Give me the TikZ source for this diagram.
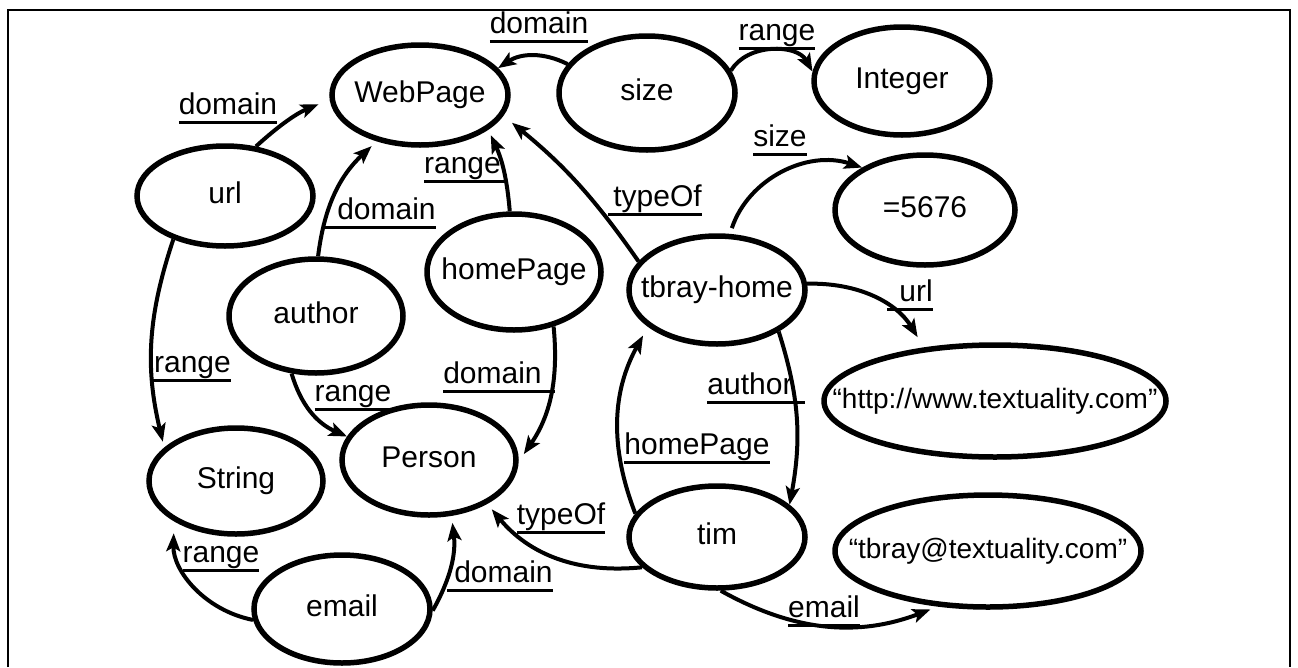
\documentclass[tikz,border=0pt]{standalone}
\usepackage{fontspec}
\setmainfont{Liberation Sans}
\usetikzlibrary{shapes.geometric,arrows.meta}
\newcommand\nt[1]{\makebox[0pt]{#1\vphantom{Hg}}}
\newcommand\ulab[3]{\vtop{\hbox{\hspace{#1}#2\vphantom{gy}\hspace{#3}}\kern0.6pt\hrule height 2.4pt}}
\begin{document}
\begin{tikzpicture}[x=1pt,y=-1pt,font=\fontsize{30}{36}\selectfont,
  ell/.style n args={2}{draw, ellipse, line width=5.5pt, inner sep=0pt, minimum width=#1, minimum height=#2},
  conn/.style={line width=4pt, -{Stealth[length=18pt,width=14pt,inset=4pt]}},
  lab/.style={inner sep=0pt, anchor=south},
  frameline/.style={line width=2pt}]
\useasboundingbox (0,0) rectangle (1298,667);
\draw[frameline] (8,667) -- (8,10) -- (1290,10) -- (1290,667);

% nodes
\node[ell={176}{100}] (WebPage)  at (420,95)  {\nt{WebPage}};
\node[ell={176}{114}] (size)     at (647,93)  {\nt{size}};
\node[ell={176}{108}] (Integer)  at (902,81)  {\nt{Integer}};
\node[ell={176}{100}] (url)      at (225,196) {\nt{url}};
\node[ell={174}{116}] (homePage) at (514,272) {\nt{homePage}};
\node[ell={180}{110}] (n5676)    at (925,210) {\nt{=5676}};
\node[ell={174}{114}] (author)   at (316,316) {\nt{author}};
\node[ell={176}{108}] (tbray)    at (717,290) {\nt{tbray-home}};
\node[ell={342}{112}] (http)     at (995,401) {\fontsize{28}{34}\selectfont\nt{“http://www.textuality.com”}};
\node[ell={174}{106}] (String)   at (236,481) {\nt{String}};
\node[ell={174}{110}] (Person)   at (429,460) {\nt{Person}};
\node[ell={176}{102}] (tim)      at (717,537) {\nt{tim}};
\node[ell={306}{112}] (tbemail)  at (988,551) {\fontsize{28}{34}\selectfont\nt{“tbray@textuality.com”}};
\node[ell={176}{108}] (email)    at (342,609) {\nt{email}};

% labels
\node[lab] (l1)  at (228,124) {\ulab{0pt}{domain}{0pt}};
\node[lab] (l2)  at (539,43)  {\ulab{0pt}{domain}{0pt}};
\node[lab] (l3)  at (777,50)  {\ulab{0pt}{range}{0pt}};
\node[lab] (l4)  at (466,183) {\ulab{0pt}{range}{7pt}};
\node[lab] (l5)  at (380,229) {\ulab{13pt}{domain}{0pt}};
\node[lab] (l6)  at (655,216) {\ulab{5pt}{typeOf}{0pt}};
\node[lab] (l7)  at (780,156) {\ulab{0pt}{size}{0pt}};
\node[lab] (l8)  at (910,311) {\ulab{12pt}{url}{0pt}};
\node[lab] (l9)  at (191,382) {\ulab{3pt}{range}{0pt}};
\node[lab] (l10) at (353,411) {\ulab{0pt}{range}{0pt}};
\node[lab] (l11) at (499,393) {\ulab{0pt}{domain}{13pt}};
\node[lab] (l12) at (756,404) {\ulab{0pt}{author}{12pt}};
\node[lab] (l13) at (697,464) {\ulab{0pt}{homePage}{0pt}};
\node[lab] (l14) at (561,534) {\ulab{0pt}{typeOf}{0pt}};
\node[lab] (l15) at (221,572) {\ulab{0pt}{range}{0pt}};
\node[lab] (l16) at (500,592) {\ulab{7pt}{domain}{0pt}};
\node[lab] (l17) at (824,627) {\ulab{0pt}{email}{0pt}};

% connectors
\draw[conn, shorten >=12pt] (url.58) to[bend left=10] (WebPage.183);
\draw[conn] (size.160) to[bend right=30] (WebPage.19);
\draw[conn] (size.15) to[bend left=60] (Integer.174);
\draw[conn, shorten >=6pt] (homePage.94) to[bend right=10] (WebPage.333);
\draw[conn, shorten >=7pt] (author.88) to[bend left=20] (WebPage.227);
\draw[conn, shorten >=11pt] (tbray.160) to[bend right=8] (WebPage.346);
\draw[conn, shorten <=6pt] (tbray.77) to[bend left=45] (n5676.146);
\draw[conn, shorten >=12pt] (tbray.4) to[bend left=30] (http.143);
\draw[conn, shorten >=6pt] (url.220) to[bend right=16] (String.155);
\draw[conn] (author.247) to[bend right=25] (Person.164);
\draw[conn, shorten >=9pt] (homePage.306) to[bend left=20] (Person.359);
\draw[conn, shorten >=12pt] (email.187) to[bend left=40] (String.213);
\draw[conn, shorten >=7pt] (email.359) to[bend right=18] (Person.292);
\draw[conn, shorten >=7pt] (tim.202) to[bend left=28] (Person.323);
\draw[conn, shorten >=10pt] (tim.164) to[bend left=25] (tbray.208);
\draw[conn] (tbray.326) to[bend left=14] (tim.24);
\draw[conn, shorten >=8pt] (tim.274) to[bend right=25] (tbemail.228);
\end{tikzpicture}
\end{document}
